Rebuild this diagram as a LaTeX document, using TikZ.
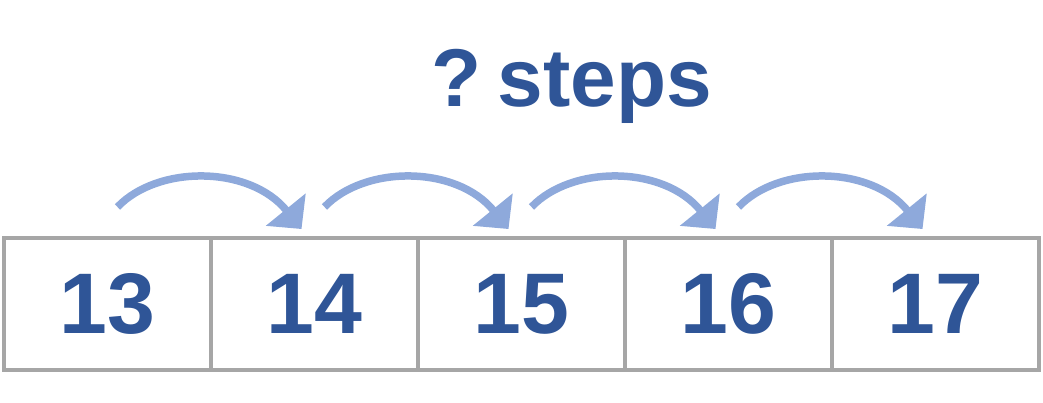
\documentclass[tikz,border=0pt]{standalone}
\usepackage{fontspec}
\setmainfont{Liberation Sans}
\usetikzlibrary{arrows.meta,calc}
\definecolor{txtblue}{HTML}{2F5597}
\definecolor{arrblue}{HTML}{8EA9DB}
\definecolor{boxgray}{HTML}{A6A6A6}
\tikzset{
  cell/.style={draw=boxgray, line width=4pt, minimum width=207pt, minimum height=132pt, inner sep=0pt, outer sep=0pt,
    font=\fontsize{86pt}{86pt}\selectfont\bfseries, text=txtblue},
  hop/.style={draw=arrblue, line width=7.5pt, -{Triangle[width=50pt,length=25pt]}},
}
\begin{document}
\begin{tikzpicture}[x=1pt,y=-1pt]
\useasboundingbox (0,0) rectangle (1043,403);
\node[cell] (b1) at (107.5,304) {13};
\node[cell] (b2) at (314.5,304) {14};
\node[cell] (b3) at (521.5,304) {15};
\node[cell] (b4) at (728.5,304) {16};
\node[cell] (b5) at (935.5,304) {17};
\node[font=\fontsize{82pt}{82pt}\selectfont\bfseries, text=txtblue, inner sep=0pt, anchor=base] (t) at (572,107) {?\hspace{16pt}steps};
\foreach \a/\b in {b1/b2,b2/b3,b3/b4,b4/b5}{
  \coordinate (s\a) at ($(\a.north)+(10,-31)$);
  \coordinate (e\a) at ($(\b.north)+(-13,-9)$);
  \draw[hop] (s\a) .. controls ($(s\a)+(40,-42)$) and ($(e\a)+(-52,-64)$) .. (e\a);
}
\end{tikzpicture}
\end{document}
